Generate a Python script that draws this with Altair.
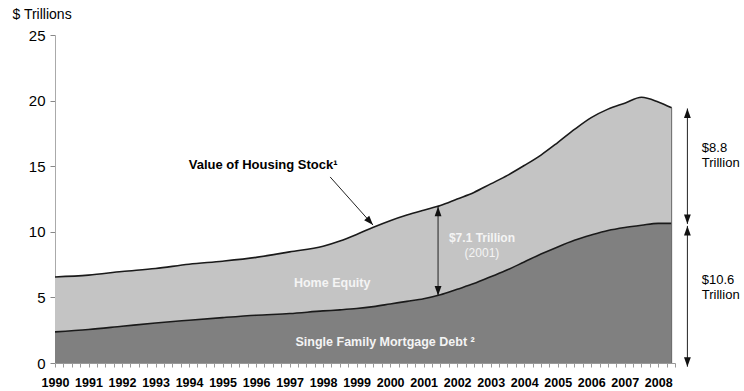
import altair as alt
import pandas as pd

# ---- data ----
years = [1990, 1991, 1992, 1993, 1994, 1995, 1996, 1997, 1998, 1998.5, 1999, 1999.5,
         2000, 2000.5, 2001, 2001.5, 2002, 2002.5, 2003, 2003.5, 2004, 2004.5,
         2005, 2005.5, 2006, 2006.5, 2007, 2007.5, 2008, 2008.4]
housing_value = [6.56, 6.70, 6.97, 7.20, 7.53, 7.76, 8.05, 8.47, 8.90, 9.30, 9.80, 10.35,
                 10.85, 11.28, 11.65, 12.00, 12.50, 13.00, 13.65, 14.30, 15.05, 15.85,
                 16.80, 17.80, 18.70, 19.35, 19.80, 20.25, 19.90, 19.45]
mortgage_debt = [2.37, 2.55, 2.80, 3.05, 3.26, 3.46, 3.64, 3.77, 3.97, 4.05, 4.15, 4.30,
                 4.50, 4.70, 4.90, 5.20, 5.62, 6.05, 6.57, 7.10, 7.70, 8.30,
                 8.85, 9.35, 9.75, 10.10, 10.33, 10.50, 10.64, 10.64]
year_labels = list(range(1990, 2009))
y_ticks = [0, 5, 10, 15, 20, 25]
minor_ticks = [1990 + i * 0.25 for i in range(75)]

DARK = "#808080"
LIGHT = "#c4c4c4"
FONT = "Liberation Sans"

df = pd.DataFrame({"x": years, "total": housing_value, "debt": mortgage_debt})
df["zero"] = 0.0

xscale = alt.Scale(domain=[1990, 2008.5], nice=False, zero=False)
yscale = alt.Scale(domain=[0, 25], nice=False)

xaxis = alt.Axis(values=minor_ticks, labelExpr="datum.value % 1 == 0 ? toString(datum.value) : ''",
                 labelOverlap=False, labelFlush=False, grid=False, tickSize=4, tickColor="#999999",
                 domainColor="#999999", labelFont=FONT, labelFontSize=12.5, labelFontWeight="bold",
                 labelColor="#000000", labelPadding=9, labelAngle=0, labelAlign="center", title=None)
yaxis = alt.Axis(values=y_ticks, grid=False, tickSize=5, tickColor="#888888", domainColor="#aaaaaa",
                 labelFont=FONT, labelFontSize=15, labelColor="#000000", labelPadding=5, labelFlush=False,
                 title="$ Trillions", titleAngle=0, titleAlign="left", titleBaseline="middle",
                 titleX=-43, titleY=-21, titleFont=FONT, titleFontSize=14, titleFontWeight="normal",
                 titleColor="#000000")


def X(field="x"):
    return alt.X(f"{field}:Q", scale=xscale, axis=xaxis)


def Y(field):
    return alt.Y(f"{field}:Q", scale=yscale, axis=yaxis)


debt_area = alt.Chart(df).mark_area(color=DARK, opacity=1, interpolate="monotone").encode(
    x=X(), y=Y("debt"), y2="zero:Q")
equity_area = alt.Chart(df).mark_area(color=LIGHT, opacity=1, interpolate="monotone").encode(
    x=X(), y=Y("total"), y2="debt:Q")
total_line = alt.Chart(df).mark_line(color="#1a1a1a", strokeWidth=1.6, interpolate="monotone").encode(
    x=X(), y=Y("total"))
debt_line = alt.Chart(df).mark_line(color="#1a1a1a", strokeWidth=1.6, interpolate="monotone").encode(
    x=X(), y=Y("debt"))

# right edge of the stacked areas
edge = pd.DataFrame({"x": [years[-1]], "y": [0.0], "y2": [housing_value[-1]]})
edge_rule = alt.Chart(edge).mark_rule(color="#666666", strokeWidth=1).encode(
    x=X(), y=Y("y"), y2="y2:Q")

# annotation arrows (data units)
arrows = pd.DataFrame({
    "x": [2001.43, 2008.87, 2008.87, 1998.21],
    "x2": [2001.43, 2008.87, 2008.87, 1999.49],
    "y": [11.9, 19.4, 10.45, 14.18],
    "y2": [5.15, 10.6, -0.28, 10.51],
})
arrow_rules = alt.Chart(arrows).mark_rule(color="#222222", strokeWidth=1).encode(
    x=X(), x2="x2:Q", y=Y("y"), y2="y2:Q")

heads = pd.DataFrame({
    "x": [2001.43, 2001.43, 2008.87, 2008.87, 2008.87, 2008.87, 1999.49],
    "y": [11.9, 5.15, 19.4, 10.6, 10.45, -0.28, 10.51],
    "angle": [0, 180, 0, 180, 0, 180, 138],
})
arrow_heads = alt.Chart(heads).mark_point(
    shape="M0,0L0.36,1L-0.36,1Z", filled=True, color="#111111", size=360, opacity=1
).encode(x=X(), y=Y("y"), angle=alt.Angle("angle:Q", scale=None))


def label(text, x, y, color="#000000", size=13, weight="bold", align="center"):
    d = pd.DataFrame({"x": [x], "y": [y], "t": [text]})
    return alt.Chart(d).mark_text(font=FONT, fontSize=size, fontWeight=weight, color=color,
                                  align=align, baseline="middle").encode(
        x=X(), y=Y("y"), text="t:N")


texts = [
    label("Value of Housing Stock\u00b9", 1996.21, 15.08, size=13),
    label("Home Equity", 1998.27, 6.08, color="#f4f4f4", size=12.5),
    label("Single Family Mortgage Debt \u00b2", 1999.85, 1.58, color="#f4f4f4", size=12.5),
    label("$7.1 Trillion", 2002.74, 9.5, color="#f4f4f4", size=12),
    label("(2001)", 2002.74, 8.35, color="#f4f4f4", size=12, weight="normal"),
    label("$8.8", 2009.3, 16.4, size=13, weight="normal", align="left"),
    label("Trillion", 2009.3, 15.25, size=13, weight="normal", align="left"),
    label("$10.6", 2009.3, 6.3, size=13, weight="normal", align="left"),
    label("Trillion", 2009.3, 5.15, size=13, weight="normal", align="left"),
]

chart = alt.layer(
    debt_area, equity_area, total_line, debt_line, edge_rule, arrow_rules, arrow_heads, *texts
).properties(
    width=620, height=328,
    padding={"left": 55, "top": 35, "right": 69, "bottom": 28},
    autosize=alt.AutoSizeParams(type="none"),
    background="#ffffff",
).configure_view(stroke=None)

chart.save("out.html", embed_options={"renderer": "svg", "actions": False})
